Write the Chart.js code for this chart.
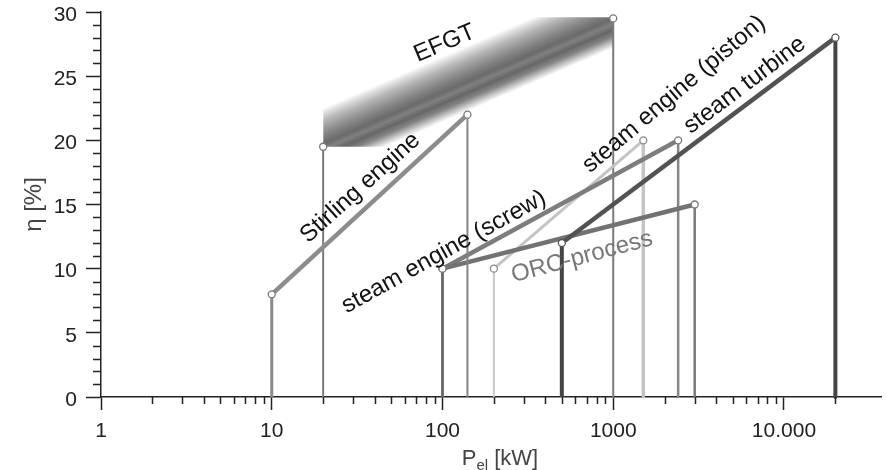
<!DOCTYPE html>
<html><head><meta charset="utf-8">
<script src="https://cdn.jsdelivr.net/npm/chart.js@4.4.1/dist/chart.umd.min.js"></script>
<style>html,body{margin:0;padding:0;background:#fff}#wrap{width:887px;height:470px;position:relative}</style>
</head><body><div id="wrap"><canvas id="c" width="887" height="470"></canvas></div>
<script>
// ---------------- data ----------------
const xTickValues = [1, 10, 100, 1000, 10000];
const xTickLabels = ['1', '10', '100', '1000', '10.000'];
const xMinorValues = [2,3,4,5,6,7,8,9,20,30,40,50,60,70,80,90,200,300,400,500,600,700,800,900,2000,3000,4000,5000,6000,7000,8000,9000,20000];
const yTickValues = [0, 5, 10, 15, 20, 25, 30];
const yTickLabels = ['0', '5', '10', '15', '20', '25', '30'];
const yMinorValues = [1,2,3,4,6,7,8,9,11,12,13,14,16,17,18,19,21,22,23,24,26,27,28,29];

const stirlingP = [10, 140];    const stirlingEta = [8, 22];
const efgtP = [20, 1000];       const efgtEta = [19.5, 29.5];
const efgtBandEta = [19.5, 29.6];
const screwP = [100, 2400];     const screwEta = [10, 20];
const pistonP = [200, 1500];    const pistonEta = [10, 20];
const turbineP = [500, 20000];  const turbineEta = [12, 28];
const orcP = [100, 3000];       const orcEta = [10, 15];

const labelTexts = ['EFGT', 'Stirling engine', 'steam engine (screw)', 'steam engine (piston)', 'steam turbine', 'ORC-process'];

// ---------------- styles / placement ----------------
const FONT = "'Liberation Sans', Arial, Helvetica, sans-serif";
const labelPlace = [
  {x: 103, y: 27.55, a: -23, c: '#111'},
  {x: 33, y: 16.3, a: -42, c: '#111'},
  {x: 102, y: 11.3, a: -29, c: '#111'},
  {x: 2270, y: 23.6, a: -40, c: '#111'},
  {x: 5900, y: 24.3, a: -37, c: '#111'},
  {x: 656, y: 10.9, a: -15, c: '#777'}
];
const stripe = { a: [20, 22.52], b: [339, 29.59], c: [1000, 27.18],
  stops: [[0,'#ffffff'],[0.07,'#e2e2e2'],[0.2,'#b6b6b6'],[0.33,'#969696'],[0.45,'#7c7c7c'],[0.55,'#6a6a6a'],[0.63,'#808080'],[0.72,'#666666'],[0.82,'#858585'],[0.92,'#cbcbcb'],[1,'#ffffff']] };

const st = {
  turbine:  {c: ['#454545', '#525252', '#454545'], w: [4, 4.5, 4], pt: '#555'},
  stirling: {c: ['#8a8a8a', '#8c8c8c', '#858585'], w: [3, 4.5, 2], pt: '#777'},
  orc:      {c: ['#6a6a6a', '#727272', '#7a7a7a'], w: [2.5, 4.5, 2.5], pt: '#777'},
  screw:    {c: ['#6a6a6a', '#7d7d7d', '#858585'], w: [2.5, 4.5, 2.5], pt: '#777'},
  piston:   {c: ['#c8c8c8', '#c4c4c4', '#c4c4c4'], w: [2, 3, 3.5], pt: '#888'},
  efgt:     {c: ['#7a7a7a', 'rgba(0,0,0,0)', '#7a7a7a'], w: [2, 1, 2], pt: '#777'}
};

function techSeries(P, E) {
  return [{x: P[0], y: 0}, {x: P[0], y: E[0]}, {x: P[1], y: E[1]}, {x: P[1], y: 0}];
}
function techDataset(label, P, E, s) {
  return {
    label, data: techSeries(P, E),
    borderColor: s.c[1], borderWidth: s.w[1],
    segment: { borderColor: g => s.c[g.p0DataIndex], borderWidth: g => s.w[g.p0DataIndex] },
    pointRadius: [0, 3.5, 3.5, 0], pointHoverRadius: 0,
    pointBackgroundColor: '#fff', pointBorderColor: s.pt, pointBorderWidth: 1.3,
    fill: false, tension: 0, clip: false, borderCapStyle: 'butt', borderJoinStyle: 'round'
  };
}

function bandGradient(ctx) {
  const chart = ctx.chart;
  if (!chart.chartArea) return 'rgba(0,0,0,0)';
  const xs = chart.scales.x, ys = chart.scales.y;
  const px = p => [xs.getPixelForValue(p[0]), ys.getPixelForValue(p[1])];
  const A = px(stripe.a), B = px(stripe.b), C = px(stripe.c);
  let ux = B[0] - A[0], uy = B[1] - A[1];
  const L = Math.hypot(ux, uy); ux /= L; uy /= L;
  let nx = -uy, ny = ux;
  let d = (C[0] - A[0]) * nx + (C[1] - A[1]) * ny;
  if (d < 0) { nx = -nx; ny = -ny; d = -d; }
  const g = chart.ctx.createLinearGradient(A[0], A[1], A[0] + nx * d, A[1] + ny * d);
  stripe.stops.forEach(s => g.addColorStop(s[0], s[1]));
  return g;
}

const datasets = [
  techDataset('steam turbine', turbineP, turbineEta, st.turbine),
  techDataset('Stirling engine', stirlingP, stirlingEta, st.stirling),
  techDataset('ORC-process', orcP, orcEta, st.orc),
  techDataset('steam engine (screw)', screwP, screwEta, st.screw),
  techDataset('steam engine (piston)', pistonP, pistonEta, st.piston),
  techDataset('EFGT', efgtP, efgtEta, st.efgt),
  {
    label: 'EFGT range',
    data: [{x: efgtP[0], y: efgtBandEta[1]}, {x: efgtP[1], y: efgtBandEta[1]}],
    borderWidth: 0, borderColor: 'rgba(0,0,0,0)', pointRadius: 0,
    backgroundColor: bandGradient, fill: {value: efgtBandEta[0]}, clip: false
  }
];

const extras = {
  id: 'extras',
  afterDatasetsDraw(chart) {
    const {ctx, scales: {x, y}} = chart;
    ctx.save();
    ctx.textAlign = 'center';
    ctx.textBaseline = 'middle';
    ctx.font = '24px ' + FONT;
    labelTexts.forEach((t, i) => {
      const p = labelPlace[i];
      ctx.save();
      ctx.translate(x.getPixelForValue(p.x), y.getPixelForValue(p.y));
      ctx.rotate(p.a * Math.PI / 180);
      ctx.fillStyle = p.c;
      ctx.fillText(t, 0, 0);
      ctx.restore();
    });
    ctx.restore();
  },
  afterDraw(chart) {
    const {ctx, scales: {x, y}} = chart;
    ctx.save();
    ctx.strokeStyle = '#222';
    ctx.lineWidth = 1.5;
    ctx.beginPath();
    const y0 = y.getPixelForValue(0);
    xMinorValues.forEach(v => { const px = Math.round(x.getPixelForValue(v)) + 0.5; ctx.moveTo(px, y0); ctx.lineTo(px, y0 + 7); });
    const x0 = x.getPixelForValue(1);
    yMinorValues.forEach(v => { const py = Math.round(y.getPixelForValue(v)) + 0.5; ctx.moveTo(x0, py); ctx.lineTo(x0 - 8, py); });
    ctx.stroke();
    // x axis title with subscript
    ctx.fillStyle = '#444';
    ctx.textBaseline = 'alphabetic';
    ctx.textAlign = 'left';
    const big = '22px ' + FONT, small = '15px ' + FONT;
    ctx.font = big; const w1 = ctx.measureText('P').width; const w3 = ctx.measureText(' [kW]').width;
    ctx.font = small; const w2 = ctx.measureText('el').width;
    const cx = (x.left + x.right) / 2 + 9;
    let sx = cx - (w1 + w2 + w3) / 2;
    const base = 465;
    ctx.font = big; ctx.fillText('P', sx, base); sx += w1;
    ctx.font = small; ctx.fillText('el', sx, base + 5); sx += w2;
    ctx.font = big; ctx.fillText(' [kW]', sx, base);
    ctx.restore();
  }
};

Chart.defaults.font.family = FONT;
Chart.defaults.font.size = 21;
Chart.defaults.color = '#222';

new Chart(document.getElementById('c'), {
  type: 'line',
  data: { datasets },
  plugins: [extras],
  options: {
    responsive: false, animation: false,
    layout: { padding: { top: 12, right: 6, left: 0, bottom: 0 } },
    plugins: { legend: { display: false }, tooltip: { enabled: false } },
    events: [],
    scales: {
      x: {
        type: 'logarithmic', min: 1, max: 37000,
        afterBuildTicks: s => { s.ticks = xTickValues.map(v => ({value: v, major: true})); },
        afterFit: s => { s.height = 73; s.paddingLeft = 0; s.paddingRight = 0; },
        ticks: { autoSkip: false, maxRotation: 0, padding: 9, color: '#222', font: {size: 21},
          callback: (v, i) => xTickLabels[i] },
        grid: { display: true, drawOnChartArea: false, drawTicks: true, tickLength: 13, tickColor: '#222', tickWidth: 1.5 },
        border: { display: true, color: '#222', width: 1.5 }
      },
      y: {
        type: 'linear', min: 0, max: 30,
        afterBuildTicks: s => { s.ticks = yTickValues.map(v => ({value: v})); },
        afterFit: s => { s.width = 101; s.paddingTop = 0; s.paddingBottom = 0; },
        ticks: { padding: 9, labelOffset: 3, color: '#222', font: {size: 21}, callback: (v, i) => yTickLabels[i] },
        grid: { display: true, drawOnChartArea: false, drawTicks: true, tickLength: 15, tickColor: '#222', tickWidth: 1.5 },
        border: { display: true, color: '#222', width: 1.5 },
        title: { display: true, text: 'η [%]', color: '#444', font: {size: 24}, padding: {top: 20, bottom: 0} }
      }
    }
  }
});
</script></body></html>
